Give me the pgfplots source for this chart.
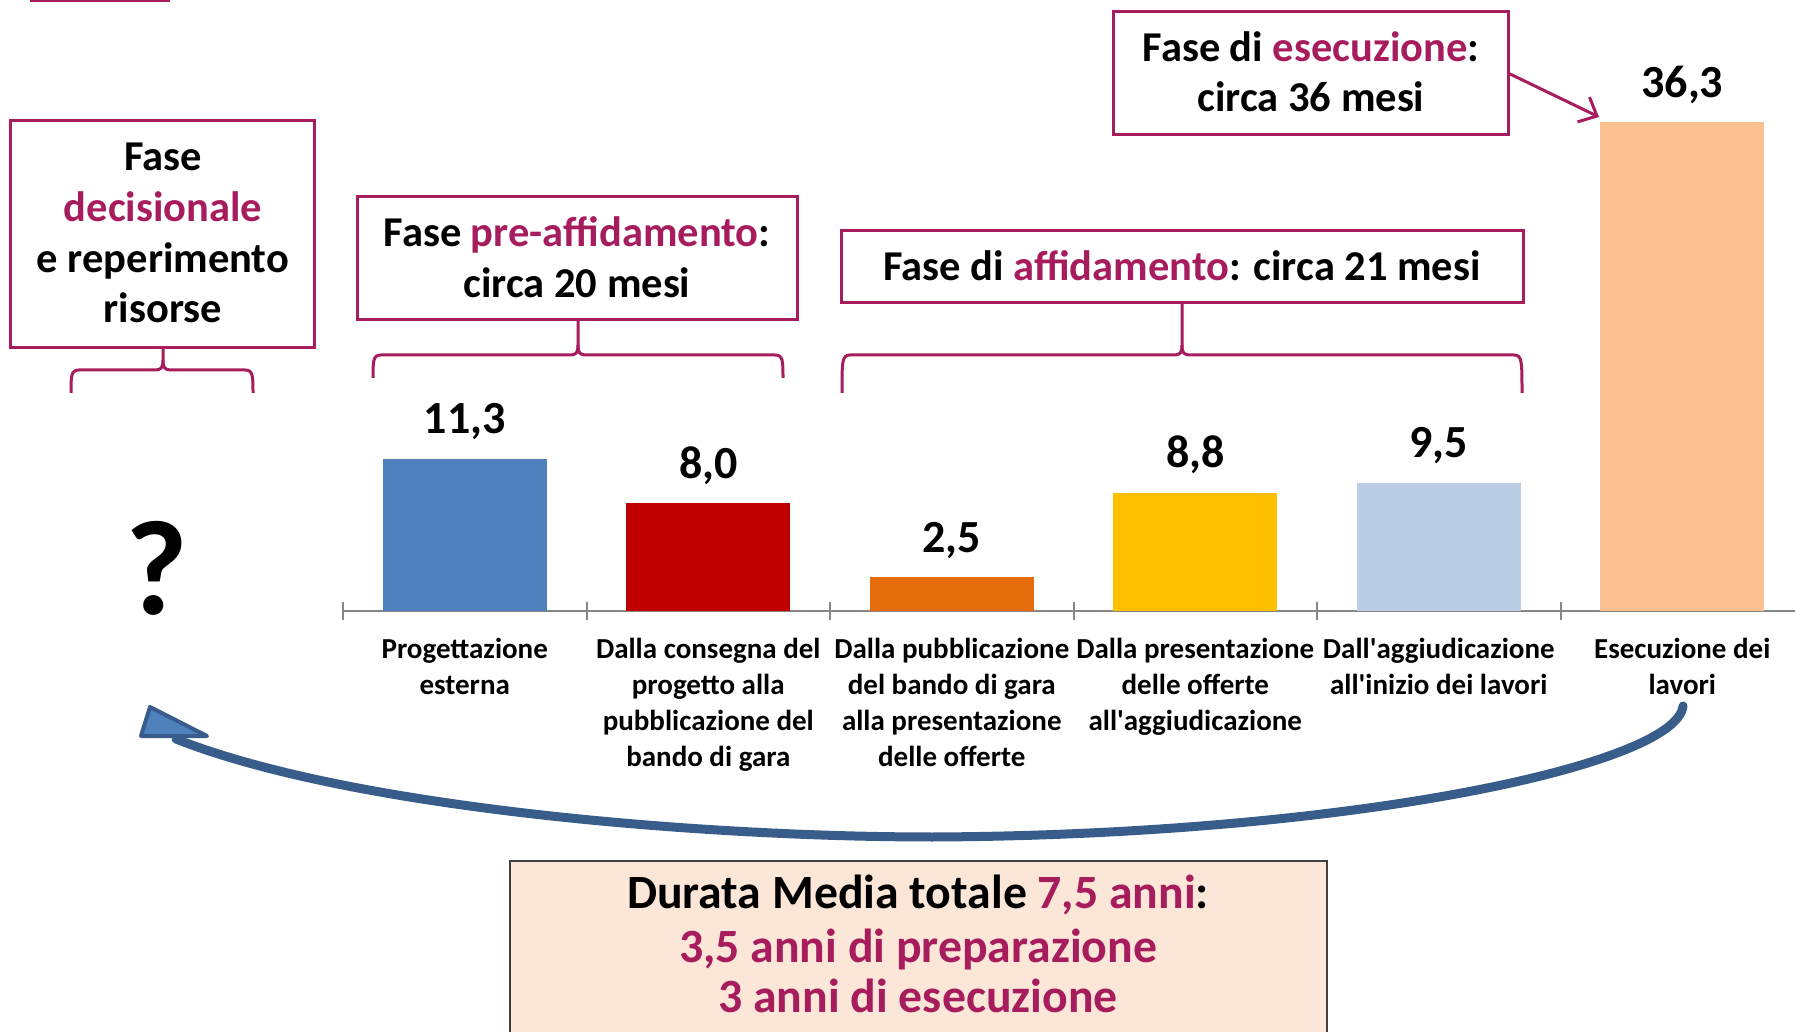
\documentclass[border=0pt]{standalone}
\usepackage{pgfplots}
\pgfplotsset{compat=1.18}
\usepackage{fontspec}
\setmainfont{Carlito}
\usetikzlibrary{arrows.meta}
\definecolor{mag}{RGB}{166,28,92}
\definecolor{axgray}{RGB}{134,134,134}
\definecolor{cblue}{RGB}{79,129,189}
\definecolor{cred}{RGB}{192,0,0}
\definecolor{corange}{RGB}{228,108,10}
\definecolor{cyellow}{RGB}{255,192,0}
\definecolor{clblue}{RGB}{185,205,229}
\definecolor{cpeach}{RGB}{250,192,144}
\definecolor{arrowdark}{RGB}{56,93,138}
\definecolor{peachbox}{RGB}{252,230,216}
\definecolor{boxgray}{RGB}{64,64,64}
\newcommand\phasebrace[6]{%
  \draw[mag, line width=1.2pt, line join=round] (#1,#6) .. controls (#1,#5+6) and (#1,#5) .. (#1+8,#5) -- (#3-8,#5) .. controls (#3-2,#5) and (#3,#5-2) .. (#3,#5-10) -- (#3,#4);
  \draw[mag, line width=1.2pt, line join=round] (#3,#5-10) .. controls (#3,#5-2) and (#3+2,#5) .. (#3+8,#5) -- (#2-8,#5) .. controls (#2,#5) and (#2,#5+6) .. (#2,#6);}
\begin{document}
\begin{tikzpicture}[x=0.4pt,y=-0.4pt]
\begin{axis}[
  at={(137.2pt,-244.4pt)}, anchor=south west,
  scale only axis, width=580.8pt, height=215.36pt,
  xmin=-0.5, xmax=5.463, ymin=0, ymax=40,
  clip=false,
  axis x line*=bottom, axis y line=none,
  axis line style={draw=axgray, line width=0.8pt},
  xtick={0,1,2,3,4,5},
  xticklabels={{Progettazione\\esterna},
    {Dalla consegna del\\progetto alla\\pubblicazione del\\bando di gara},
    {Dalla pubblicazione\\del bando di gara\\alla presentazione\\delle offerte},
    {Dalla presentazione\\delle offerte\\all\textquotesingle aggiudicazione},
    {Dall\textquotesingle aggiudicazione\\all\textquotesingle inizio dei lavori},
    {Esecuzione dei\\lavori}},
  major tick length=0pt,
  minor xtick={-0.5,0.5,1.5,2.5,3.5,4.5},
  minor tick length=7.2pt,
  tick align=center,
  minor tick style={draw=axgray, line width=0.8pt},
  ytick=\empty,
  xticklabel style={font=\bfseries\fontsize{11.6}{14.4}\selectfont, align=center, inner sep=0pt, anchor=north, yshift=-10.6pt},
  nodes near coords,
  every node near coord/.append style={font=\bfseries\fontsize{18.4}{22}\selectfont, inner sep=0pt, yshift=7.4pt, text=black},
  /pgf/number format/use comma,
  /pgf/number format/fixed,
  /pgf/number format/fixed zerofill,
  /pgf/number format/precision=1,
  /pgf/number format/assume math mode=true,
]
\addplot[ybar, bar width=0.672, bar shift=0pt, fill=cblue, draw=none] coordinates {(0,11.3)};
\addplot[ybar, bar width=0.672, bar shift=0pt, fill=cred, draw=none] coordinates {(1,8.0)};
\addplot[ybar, bar width=0.672, bar shift=0pt, fill=corange, draw=none] coordinates {(2,2.5)};
\addplot[ybar, bar width=0.672, bar shift=0pt, fill=cyellow, draw=none] coordinates {(3,8.8)};
\addplot[ybar, bar width=0.672, bar shift=0pt, fill=clblue, draw=none] coordinates {(4,9.5)};
\addplot[ybar, bar width=0.672, bar shift=0pt, fill=cpeach, draw=none] coordinates {(5,36.3)};
\end{axis}

% small pink line top-left
\draw[mag, line width=1.2pt] (30,1) -- (170,1);

\tikzset{box/.style={draw=mag, line width=1.2pt},
  bt/.style={font=\bfseries\fontsize{17}{20}\selectfont, anchor=base, inner sep=0pt},
  bt2/.style={font=\bfseries\fontsize{19.1}{22}\selectfont, anchor=base, inner sep=0pt}}

\draw[box] (10,121) rectangle (314,348);
\draw[box] (357,197) rectangle (797,320);
\draw[box] (841,231) rectangle (1523,303);
\draw[box] (1113,12) rectangle (1508,135);

\node[bt] at (163,171) {Fase};
\node[bt, text=mag] at (163,222) {decisionale};
\node[bt] at (163,273) {e reperimento};
\node[bt] at (163,323) {risorse};
\node[bt] at (577,247) {Fase \textcolor{mag}{pre-affidamento}:};
\node[bt] at (577,298) {circa 20 mesi};
\node[bt] at (1182,281) {Fase di \textcolor{mag}{affidamento}: circa 21 mesi};
\node[bt] at (1311,62) {Fase di \textcolor{mag}{esecuzione}:};
\node[bt] at (1311,112) {circa 36 mesi};

\phasebrace{71}{253}{163}{348}{370}{393}
\phasebrace{373}{783}{578}{320}{355}{378}
\phasebrace{842}{1522}{1182}{303}{355}{393}

\draw[mag, line width=1.2pt, -{Straight Barb[length=6pt,width=11pt]}] (1508,73) -- (1599,117);

\node[font=\bfseries\fontsize{54}{60}\selectfont, anchor=base, inner sep=0pt] at (157,615) {?};

% curved return arrow
\draw[arrowdark, line width=3.6pt, line cap=round] (1683,706) .. controls (1677,765) and (1350,835) .. (933,837) .. controls (700,837) and (350,808) .. (176,739);
\filldraw[fill=cblue, draw=arrowdark, line width=1.6pt, line join=round] (150,707) -- (141,736) -- (207,736) -- cycle;

% bottom box
\filldraw[fill=peachbox, draw=boxgray, line width=0.8pt] (510,861) rectangle (1327,1100);
\node[bt2] at (918,908) {Durata Media totale \textcolor{mag}{7,5 anni}:};
\node[bt2, text=mag] at (918,962) {3,5 anni di preparazione};
\node[bt2, text=mag] at (918,1012) {3 anni di esecuzione};

\pgfresetboundingbox
\path[use as bounding box] (0,0) rectangle (1795,1032);
\end{tikzpicture}
\end{document}
